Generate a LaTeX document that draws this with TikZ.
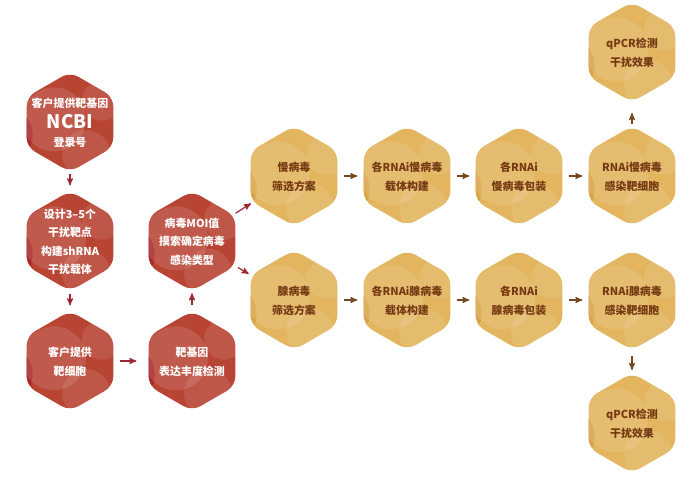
\documentclass[tikz,border=0pt]{standalone}
\usepackage{fontspec}
\setmainfont{Noto Sans CJK SC}
\usetikzlibrary{shapes,arrows}

\definecolor{hexred}{RGB}{184,68,52}
\definecolor{hexreddark}{RGB}{164,34,44}
\definecolor{hexgold}{RGB}{226,181,94}
\definecolor{hexgolddark}{RGB}{213,160,66}
\definecolor{txtbrown}{RGB}{118,58,18}
\definecolor{arrred}{RGB}{158,38,52}
\definecolor{arrbrown}{RGB}{118,72,34}

\newcommand{\hextxt}[1]{\smash{\makebox[0pt]{\raisebox{-3pt}{\fontsize{8.2}{13.6}\selectfont\bfseries
  \begin{tabular}{@{}c@{}}#1\end{tabular}}}}}
\newcommand{\hexdeco}[1]{%
  \fill[#1,opacity=.8] ([shift={(-50pt,-10pt)}]path picture bounding box.center) circle (22pt);
  \fill[#1,opacity=.6] ([shift={(46pt,24pt)}]path picture bounding box.center) circle (16pt);
  \fill[white,opacity=.12] ([shift={(-12pt,2pt)}]path picture bounding box.center) circle (24pt);
  \fill[white,opacity=.10] ([shift={(12pt,-24pt)}]path picture bounding box.center) circle (18pt);
  \fill[white,opacity=.10] ([shift={(24pt,16pt)}]path picture bounding box.center) circle (15pt);
}

\begin{document}
\begin{tikzpicture}[x=0.75pt,y=-0.75pt,
  hexbase/.style={regular polygon, regular polygon sides=6, shape border rotate=90,
    minimum size=75pt, inner sep=0pt, rounded corners=7pt},
  redhex/.style={hexbase, fill=hexred, text=white, path picture={\hexdeco{hexreddark}}},
  goldhex/.style={hexbase, fill=hexgold, text=txtbrown, path picture={\hexdeco{hexgolddark}}},
  redarr/.style={-stealth', arrred, line width=0.9pt},
  brownarr/.style={-stealth', arrbrown, line width=0.9pt}]
  \useasboundingbox (0,0) rectangle (700,481);

  % red part
  \node[redhex] (ncbi) at (70,122) {\hextxt{客户提供靶基因\\[1.5pt]{\fontsize{14}{13.6}\selectfont NCBI}\\登录号}};
  \node[redhex] (design) at (70,241) {\hextxt{设计3--5个\\干扰靶点\\构建shRNA\\干扰载体}};
  \node[redhex] (cells) at (70,361) {\hextxt{客户提供\\靶细胞}};
  \node[redhex] (expr) at (192,361) {\hextxt{靶基因\\表达丰度检测}};
  \node[redhex] (moi) at (192,241) {\hextxt{病毒MOI值\\摸索确定病毒\\感染类型}};

  % lentivirus row
  \node[goldhex] (lenti) at (294,176) {\hextxt{慢病毒\\筛选方案}};
  \node[goldhex] (lentivec) at (407,176) {\hextxt{各RNAi慢病毒\\载体构建}};
  \node[goldhex] (lentipack) at (519,176) {\hextxt{各RNAi\\慢病毒包装}};
  \node[goldhex] (lentiinf) at (632,176) {\hextxt{RNAi慢病毒\\感染靶细胞}};
  \node[goldhex] (qpcrtop) at (632,52) {\hextxt{qPCR检测\\干扰效果}};

  % adenovirus row
  \node[goldhex] (adeno) at (294,300) {\hextxt{腺病毒\\筛选方案}};
  \node[goldhex] (adenovec) at (407,300) {\hextxt{各RNAi腺病毒\\载体构建}};
  \node[goldhex] (adenopack) at (519,300) {\hextxt{各RNAi\\腺病毒包装}};
  \node[goldhex] (adenoinf) at (632,300) {\hextxt{RNAi腺病毒\\感染靶细胞}};
  \node[goldhex] (qpcrbot) at (632,423) {\hextxt{qPCR检测\\干扰效果}};

  % arrows
  \draw[redarr, shorten <=1pt, shorten >=4pt] (ncbi) -- (design);
  \draw[redarr, shorten <=2pt, shorten >=4pt] (design) -- (cells);
  \draw[redarr, shorten <=5pt, shorten >=9pt] (cells) -- (expr);
  \draw[redarr, shorten <=4pt, shorten >=1.5pt] (expr) -- (moi);
  \draw[redarr, shorten <=2pt, shorten >=1.5pt] (moi) -- (lenti);
  \draw[redarr, shorten <=2pt, shorten >=1.5pt] (moi) -- (adeno);
  \foreach \a/\b in {lenti/lentivec,lentivec/lentipack,lentipack/lentiinf,
                     adeno/adenovec,adenovec/adenopack,adenopack/adenoinf}
    \draw[brownarr, shorten <=4.5pt, shorten >=4.5pt] (\a) -- (\b);
  \draw[brownarr, shorten <=1pt, shorten >=8pt] (lentiinf) -- (qpcrtop);
  \draw[brownarr, shorten <=4pt, shorten >=2pt] (adenoinf) -- (qpcrbot);
\end{tikzpicture}
\end{document}
